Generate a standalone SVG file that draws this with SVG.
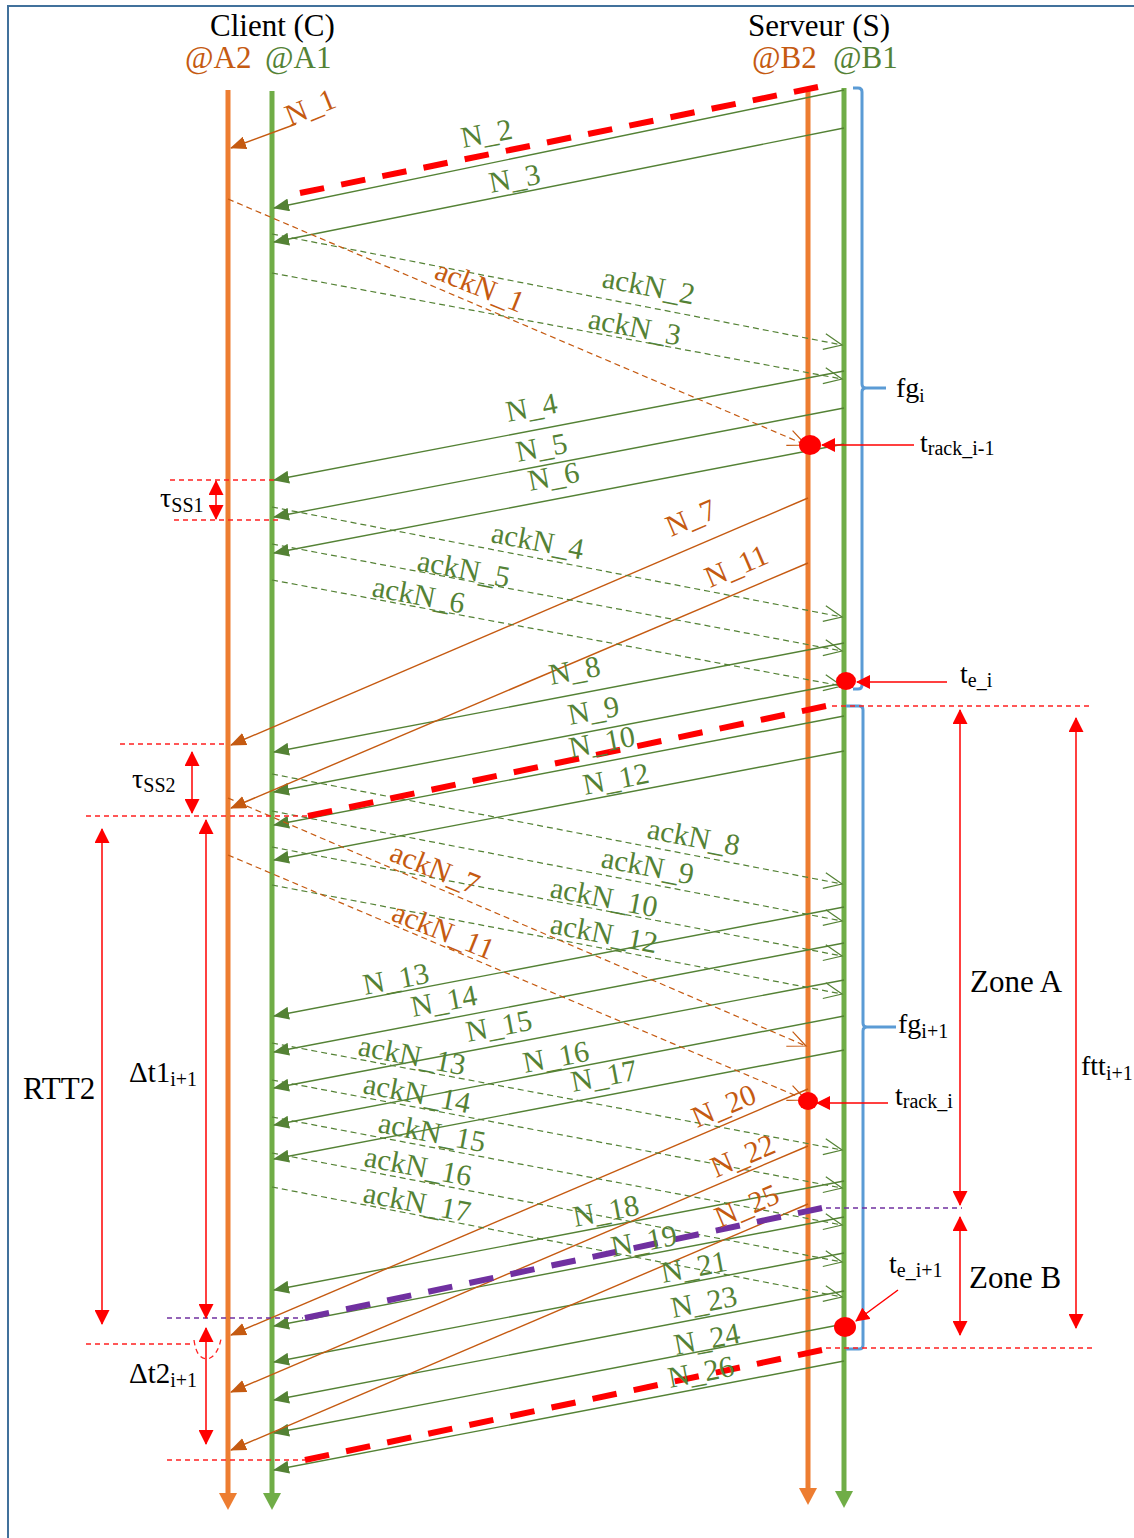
<svg xmlns="http://www.w3.org/2000/svg" width="1134" height="1538" viewBox="0 0 1134 1538">
<defs>
<style>
.t{font-family:"Liberation Serif","Times New Roman",serif}
.k{fill:#000;font-size:31px}
.s{font-size:28px;fill:#000}
.lg{fill:#548235;font-size:30px}
.lo{fill:#C55A11;font-size:30px}
.ng{stroke:#548235;stroke-width:1.4;fill:none;marker-end:url(#mG)}
.no{stroke:#C55A11;stroke-width:1.4;fill:none;marker-end:url(#mO)}
.ag{stroke:#548235;stroke-width:1.2;stroke-dasharray:6 4;fill:none;marker-end:url(#oG)}
.ao{stroke:#C55A11;stroke-width:1.2;stroke-dasharray:6 4;fill:none;marker-end:url(#oO)}
.thr{stroke:#FF0000;stroke-width:6;stroke-dasharray:24 17;fill:none}
.thp{stroke:#7030A0;stroke-width:6;stroke-dasharray:24 17;fill:none}
.hr{stroke:#FF2020;stroke-width:1.3;stroke-dasharray:5 4;fill:none}
.hp{stroke:#7030A0;stroke-width:1.3;stroke-dasharray:5 4;fill:none}
.dv{stroke:#FF0000;stroke-width:1.5;fill:none;marker-start:url(#rA);marker-end:url(#rA)}
.pt{stroke:#FF0000;stroke-width:1.5;fill:none;marker-end:url(#rP)}
.dot{fill:#FF0000}
.br{stroke:#5B9BD5;stroke-width:3;fill:none}
</style>
<marker id="mG" markerUnits="userSpaceOnUse" viewBox="0 0 16 13" markerWidth="16" markerHeight="13" refX="15" refY="6.5" orient="auto"><path d="M0,0 L16,6.5 L0,13 z" fill="#548235"/></marker>
<marker id="mO" markerUnits="userSpaceOnUse" viewBox="0 0 16 13" markerWidth="16" markerHeight="13" refX="15" refY="6.5" orient="auto"><path d="M0,0 L16,6.5 L0,13 z" fill="#C55A11"/></marker>
<marker id="oG" markerUnits="userSpaceOnUse" viewBox="-1 -1 21 18" markerWidth="21" markerHeight="18" refX="18" refY="8" orient="auto"><path d="M0,0 L18,8 L0,16" fill="none" stroke="#548235" stroke-width="1.2"/></marker>
<marker id="oO" markerUnits="userSpaceOnUse" viewBox="-1 -1 21 18" markerWidth="21" markerHeight="18" refX="18" refY="8" orient="auto"><path d="M0,0 L18,8 L0,16" fill="none" stroke="#C55A11" stroke-width="1.2"/></marker>
<marker id="rA" markerUnits="userSpaceOnUse" viewBox="0 0 15 15" markerWidth="15" markerHeight="15" refX="14" refY="7.5" orient="auto-start-reverse"><path d="M0,0 L15,7.5 L0,15 z" fill="#FF0000"/></marker>
<marker id="rP" markerUnits="userSpaceOnUse" viewBox="0 0 14 14" markerWidth="14" markerHeight="14" refX="13" refY="7" orient="auto"><path d="M0,0 L14,7 L0,14 z" fill="#FF0000"/></marker>
<marker id="bO" markerUnits="userSpaceOnUse" viewBox="0 0 17 18" markerWidth="17" markerHeight="18" refX="6" refY="9" orient="auto"><path d="M0,0 L17,9 L0,18 z" fill="#ED7D31"/></marker>
<marker id="bG" markerUnits="userSpaceOnUse" viewBox="0 0 17 18" markerWidth="17" markerHeight="18" refX="6" refY="9" orient="auto"><path d="M0,0 L17,9 L0,18 z" fill="#70AD47"/></marker>
</defs>
<rect x="8" y="6" width="1140" height="1545" fill="#FFFFFF" stroke="#41719C" stroke-width="2"/>

<g id="client">
<text class="t k" x="210" y="36">Client (C)</text>
<text class="t" x="185" y="68" font-size="31" fill="#C55A11">@A2</text>
<text class="t" x="265" y="68" font-size="31" fill="#548235">@A1</text>
</g>
<g id="server">
<text class="t k" x="748" y="36">Serveur (S)</text>
<text class="t" x="752" y="68" font-size="31" fill="#C55A11">@B2</text>
<text class="t" x="833" y="68" font-size="31" fill="#548235">@B1</text>
</g>

<g id="timelines">
<line id="A2" x1="228" y1="90" x2="228" y2="1499" stroke="#ED7D31" stroke-width="5" marker-end="url(#bO)"/>
<line id="A1" x1="272" y1="91" x2="272" y2="1499" stroke="#70AD47" stroke-width="5" marker-end="url(#bG)"/>
<line id="B2" x1="808" y1="88" x2="808" y2="1494" stroke="#ED7D31" stroke-width="5" marker-end="url(#bO)"/>
<line id="B1" x1="844" y1="88" x2="844" y2="1497" stroke="#70AD47" stroke-width="5" marker-end="url(#bG)"/>
</g>

<g id="braces">
<path class="br" d="M853,88 H858 Q862,88 862,92 V384 Q862,388 866,388 H886 M866,388 Q862,388 862,392 V685 Q862,689 858,689 H853"/>
<path class="br" d="M846,706 H859 Q863,706 863,710 V1023 Q863,1027 867,1027 H896 M867,1027 Q863,1027 863,1031 V1345 Q863,1349 859,1349 H846"/>
<text class="t s" x="896" y="397">fg<tspan font-size="19" dy="5">i</tspan></text>
<text class="t s" x="898" y="1033">fg<tspan font-size="20" dy="5">i+1</tspan></text>
</g>

<g id="connectors">
<line class="ng" x1="844" y1="90" x2="274" y2="208"/>
<line class="ng" x1="844" y1="128" x2="274" y2="242"/>
<line class="ng" x1="844" y1="371" x2="274" y2="480"/>
<line class="ng" x1="844" y1="408" x2="274" y2="517"/>
<line class="ng" x1="844" y1="444" x2="274" y2="553"/>
<line class="ng" x1="844" y1="643" x2="274" y2="752"/>
<line class="ng" x1="844" y1="683" x2="274" y2="792"/>
<line class="ng" x1="844" y1="716" x2="274" y2="825"/>
<line class="ng" x1="844" y1="751" x2="274" y2="860"/>
<line class="ng" x1="844" y1="907" x2="274" y2="1016"/>
<line class="ng" x1="844" y1="943" x2="274" y2="1052"/>
<line class="ng" x1="844" y1="980" x2="274" y2="1088"/>
<line class="ng" x1="844" y1="1016" x2="274" y2="1125"/>
<line class="ng" x1="844" y1="1050" x2="274" y2="1159"/>
<line class="ng" x1="844" y1="1181" x2="274" y2="1290"/>
<line class="ng" x1="844" y1="1217" x2="274" y2="1326"/>
<line class="ng" x1="844" y1="1253" x2="274" y2="1362"/>
<line class="ng" x1="844" y1="1291" x2="274" y2="1400"/>
<line class="ng" x1="844" y1="1324" x2="274" y2="1433"/>
<line class="ng" x1="844" y1="1361" x2="274" y2="1470"/>
<line class="no" x1="296" y1="124" x2="231" y2="148"/>
<line class="no" x1="808" y1="498" x2="231" y2="745"/>
<line class="no" x1="808" y1="563" x2="231" y2="808"/>
<line class="no" x1="808" y1="1089" x2="231" y2="1335"/>
<line class="no" x1="808" y1="1146" x2="231" y2="1392"/>
<line class="no" x1="808" y1="1204" x2="231" y2="1450"/>
<line class="ag" x1="272" y1="234" x2="842" y2="345"/>
<line class="ag" x1="272" y1="273" x2="842" y2="379"/>
<line class="ag" x1="272" y1="507" x2="842" y2="617"/>
<line class="ag" x1="272" y1="544" x2="842" y2="651"/>
<line class="ag" x1="272" y1="580" x2="842" y2="686"/>
<line class="ag" x1="272" y1="774" x2="842" y2="884"/>
<line class="ag" x1="272" y1="811" x2="842" y2="921"/>
<line class="ag" x1="272" y1="847" x2="842" y2="956"/>
<line class="ag" x1="272" y1="885" x2="842" y2="994"/>
<line class="ag" x1="272" y1="1043" x2="842" y2="1150"/>
<line class="ag" x1="272" y1="1080" x2="842" y2="1188"/>
<line class="ag" x1="272" y1="1117" x2="842" y2="1225"/>
<line class="ag" x1="272" y1="1153" x2="842" y2="1262"/>
<line class="ag" x1="272" y1="1187" x2="842" y2="1297"/>
<line class="ao" x1="228" y1="199" x2="806" y2="445"/>
<line class="ao" x1="228" y1="798" x2="806" y2="1046"/>
<line class="ao" x1="228" y1="855" x2="806" y2="1100"/>
<line class="thr" x1="300" y1="193" x2="818" y2="87" pathLength="516"/>
<line class="thr" x1="308" y1="816" x2="826" y2="706" pathLength="516"/>
<line class="thp" x1="305" y1="1318" x2="822" y2="1208" pathLength="516"/>
<line class="thr" x1="305" y1="1460" x2="822" y2="1350" pathLength="516"/>
</g>

<g id="labels">
<text class="t lo" transform="translate(290,126) rotate(-22)">N_1</text>
<text class="t lg" transform="translate(463,148) rotate(-10.8)">N_2</text>
<text class="t lg" transform="translate(491,193) rotate(-10.8)">N_3</text>
<text class="t lo" transform="translate(433,278) rotate(22)">ackN_1</text>
<text class="t lg" transform="translate(601,287) rotate(10.8)">ackN_2</text>
<text class="t lg" transform="translate(587,328) rotate(10.8)">ackN_3</text>
<text class="t lg" transform="translate(508,422) rotate(-10.8)">N_4</text>
<text class="t lg" transform="translate(518,462) rotate(-10.8)">N_5</text>
<text class="t lg" transform="translate(530,491) rotate(-10.8)">N_6</text>
<text class="t lg" transform="translate(490,542) rotate(10.8)">ackN_4</text>
<text class="t lg" transform="translate(416,570) rotate(10.8)">ackN_5</text>
<text class="t lg" transform="translate(371,596) rotate(10.8)">ackN_6</text>
<text class="t lo" transform="translate(671,537) rotate(-23)">N_7</text>
<text class="t lo" transform="translate(710,588) rotate(-23)">N_11</text>
<text class="t lg" transform="translate(551,685) rotate(-10.8)">N_8</text>
<text class="t lg" transform="translate(570,725) rotate(-10.8)">N_9</text>
<text class="t lg" transform="translate(571,758) rotate(-10.8)">N_10</text>
<text class="t lg" transform="translate(585,795) rotate(-10.8)">N_12</text>
<text class="t lg" transform="translate(646,838) rotate(10.8)">ackN_8</text>
<text class="t lg" transform="translate(600,867) rotate(10.8)">ackN_9</text>
<text class="t lg" transform="translate(549,897) rotate(10.8)">ackN_10</text>
<text class="t lg" transform="translate(549,933) rotate(10.8)">ackN_12</text>
<text class="t lo" transform="translate(388,860) rotate(22)">ackN_7</text>
<text class="t lo" transform="translate(390,920) rotate(22)">ackN_11</text>
<text class="t lg" transform="translate(365,995) rotate(-10.8)">N_13</text>
<text class="t lg" transform="translate(413,1017) rotate(-10.8)">N_14</text>
<text class="t lg" transform="translate(468,1042) rotate(-10.8)">N_15</text>
<text class="t lg" transform="translate(525,1073) rotate(-10.8)">N_16</text>
<text class="t lg" transform="translate(573,1092) rotate(-10.8)">N_17</text>
<text class="t lg" transform="translate(357,1055) rotate(10.8)">ackN_13</text>
<text class="t lg" transform="translate(362,1093) rotate(10.8)">ackN_14</text>
<text class="t lg" transform="translate(377,1132) rotate(10.8)">ackN_15</text>
<text class="t lg" transform="translate(363,1166) rotate(10.8)">ackN_16</text>
<text class="t lg" transform="translate(362,1202) rotate(10.8)">ackN_17</text>
<text class="t lo" transform="translate(697,1128) rotate(-23)">N_20</text>
<text class="t lo" transform="translate(716,1178) rotate(-23)">N_22</text>
<text class="t lo" transform="translate(720,1228) rotate(-23)">N_25</text>
<text class="t lg" transform="translate(575,1227) rotate(-10.8)">N_18</text>
<text class="t lg" transform="translate(613,1257) rotate(-10.8)">N_19</text>
<text class="t lg" transform="translate(663,1283) rotate(-10.8)">N_21</text>
<text class="t lg" transform="translate(673,1318) rotate(-10.8)">N_23</text>
<text class="t lg" transform="translate(676,1355) rotate(-10.8)">N_24</text>
<text class="t lg" transform="translate(670,1388) rotate(-10.8)">N_26</text>
</g>

<g id="guides">
<line class="hr" x1="170" y1="480" x2="275" y2="480"/>
<line class="hr" x1="174" y1="520" x2="278" y2="520"/>
<line class="hr" x1="120" y1="744" x2="228" y2="744"/>
<line class="hr" x1="86" y1="816" x2="310" y2="816"/>
<line class="hr" x1="832" y1="706" x2="1090" y2="706"/>
<line class="hp" x1="826" y1="1208" x2="962" y2="1208"/>
<line class="hp" x1="167" y1="1318" x2="303" y2="1318"/>
<line class="hr" x1="86" y1="1344" x2="193" y2="1344"/>
<line class="hr" x1="826" y1="1348" x2="1093" y2="1348"/>
<line class="hr" x1="167" y1="1460" x2="305" y2="1460"/>
<path class="hr" d="M194,1340 Q197,1362 210,1358 Q218,1354 221,1339"/>
</g>

<g id="measures">
<line class="dv" x1="216" y1="481" x2="216" y2="519"/>
<line class="dv" x1="192" y1="752" x2="192" y2="813"/>
<line class="dv" x1="102" y1="829" x2="102" y2="1324"/>
<line class="dv" x1="206" y1="820" x2="206" y2="1318"/>
<line class="dv" x1="206" y1="1328" x2="206" y2="1444"/>
<line class="dv" x1="960" y1="710" x2="960" y2="1205"/>
<line class="dv" x1="960" y1="1217" x2="960" y2="1335"/>
<line class="dv" x1="1076" y1="718" x2="1076" y2="1328"/>
<text class="t s" x="160" y="507">τ<tspan font-size="20" dy="5">SS1</tspan></text>
<text class="t s" x="132" y="788">τ<tspan font-size="20" dy="4">SS2</tspan></text>
<text class="t k" x="23" y="1099">RTT2</text>
<text class="t" x="129" y="1082" font-size="29">Δt1<tspan font-size="20" dy="4">i+1</tspan></text>
<text class="t" x="129" y="1383" font-size="29">Δt2<tspan font-size="20" dy="4">i+1</tspan></text>
<text class="t k" x="970" y="992">Zone A</text>
<text class="t k" x="969" y="1288">Zone B</text>
<text class="t s" x="1081" y="1075">ftt<tspan font-size="20" dy="5">i+1</tspan></text>
</g>

<g id="events">
<ellipse class="dot" cx="810" cy="445" rx="11" ry="10"/>
<line class="pt" x1="914" y1="445" x2="822" y2="445"/>
<text class="t s" x="920" y="452">t<tspan font-size="20" dy="3">rack_i-1</tspan></text>
<ellipse class="dot" cx="846" cy="681" rx="10" ry="9"/>
<line class="pt" x1="947" y1="682" x2="857" y2="682"/>
<text class="t s" x="960" y="683">t<tspan font-size="20" dy="4">e_i</tspan></text>
<ellipse class="dot" cx="808" cy="1101" rx="10" ry="9"/>
<line class="pt" x1="888" y1="1103" x2="817" y2="1103"/>
<text class="t s" x="895" y="1105">t<tspan font-size="20" dy="3">rack_i</tspan></text>
<ellipse class="dot" cx="845" cy="1327" rx="11" ry="10"/>
<line class="pt" x1="898" y1="1290" x2="856" y2="1321"/>
<text class="t s" x="889" y="1273">t<tspan font-size="20" dy="4">e_i+1</tspan></text>
</g>
</svg>
